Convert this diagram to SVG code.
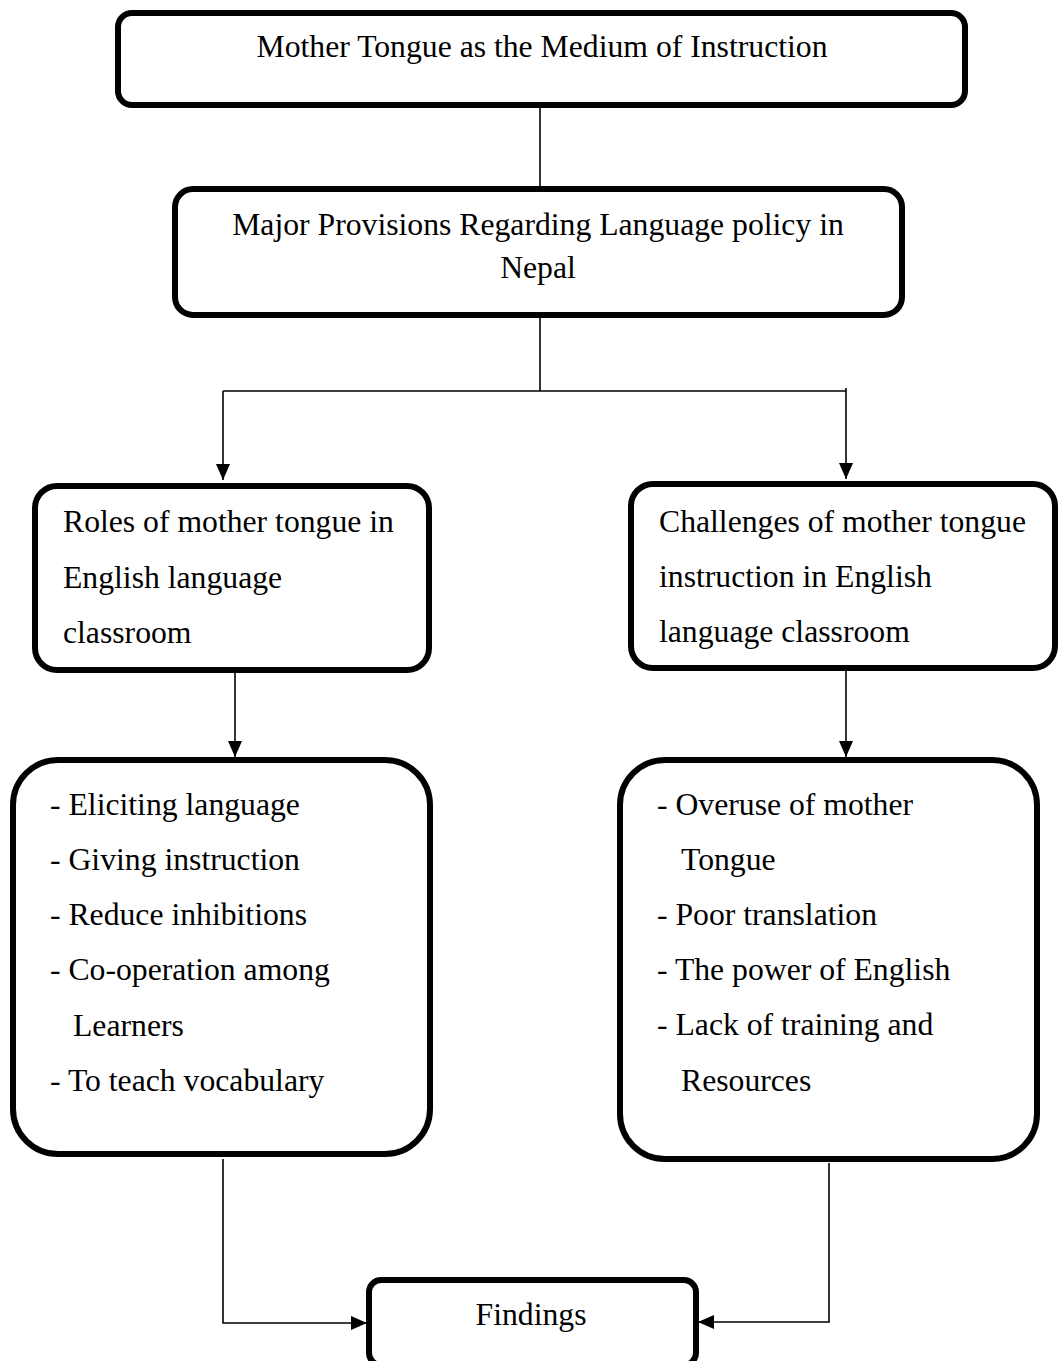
<svg xmlns="http://www.w3.org/2000/svg" width="1059" height="1361" viewBox="0 0 1059 1361">
<style>
.box{fill:#fff;stroke:#000;stroke-width:6}
.t{font-family:"Liberation Serif","Times New Roman",serif;font-size:31.7px;fill:#000}
.c{text-anchor:middle}
.ln{fill:none;stroke:#000;stroke-width:1.6}
</style>
<defs>
<marker id="ah" markerUnits="userSpaceOnUse" markerWidth="16" markerHeight="16" viewBox="0 0 16 16" refX="16" refY="8" orient="auto">
<path d="M0,1 L16,8 L0,15 Z" fill="#000"/>
</marker>
</defs>
<rect width="1059" height="1361" fill="#fff"/>
<g id="connectors">
<line class="ln" x1="540" y1="108" x2="540" y2="186"/>
<line class="ln" x1="540" y1="318" x2="540" y2="391"/>
<line class="ln" x1="223" y1="391" x2="846" y2="391"/>
<line class="ln" x1="223" y1="391" x2="223" y2="480" marker-end="url(#ah)"/>
<line class="ln" x1="846" y1="388" x2="846" y2="479" marker-end="url(#ah)"/>
<line class="ln" x1="235" y1="673" x2="235" y2="757" marker-end="url(#ah)"/>
<line class="ln" x1="846" y1="671" x2="846" y2="757" marker-end="url(#ah)"/>
<polyline class="ln" points="223,1159 223,1323 367,1323" marker-end="url(#ah)"/>
<polyline class="ln" points="829,1163 829,1322 698,1322" marker-end="url(#ah)"/>
</g>
<g id="n1">
<rect class="box" x="118" y="13" width="847" height="92" rx="14"/>
<text class="t c" x="542" y="57">Mother Tongue as the Medium of Instruction</text>
</g>
<g id="n2">
<rect class="box" x="175" y="189" width="727" height="126" rx="18"/>
<text class="t c" x="538" y="235">Major Provisions Regarding Language policy in</text>
<text class="t c" x="538" y="278">Nepal</text>
</g>
<g id="n3">
<rect class="box" x="35" y="486" width="394" height="184" rx="22"/>
<text class="t" x="63" y="532">Roles of mother tongue in</text>
<text class="t" x="63" y="588">English language</text>
<text class="t" x="63" y="643">classroom</text>
</g>
<g id="n4">
<rect class="box" x="631" y="484" width="424" height="184" rx="22"/>
<text class="t" x="659" y="532">Challenges of mother tongue</text>
<text class="t" x="659" y="587">instruction in English</text>
<text class="t" x="659" y="642">language classroom</text>
</g>
<g id="n5">
<rect class="box" x="13" y="760" width="417" height="394" rx="45"/>
<text class="t" x="50" y="815">- Eliciting language</text>
<text class="t" x="50" y="870">- Giving instruction</text>
<text class="t" x="50" y="925">- Reduce inhibitions</text>
<text class="t" x="50" y="980">- Co-operation among</text>
<text class="t" x="73" y="1036">Learners</text>
<text class="t" x="50" y="1091">- To teach vocabulary</text>
</g>
<g id="n6">
<rect class="box" x="620" y="760" width="417" height="399" rx="45"/>
<text class="t" x="657" y="815">- Overuse of mother</text>
<text class="t" x="681" y="870">Tongue</text>
<text class="t" x="657" y="925">- Poor translation</text>
<text class="t" x="657" y="980">- The power of English</text>
<text class="t" x="657" y="1035">- Lack of training and</text>
<text class="t" x="681" y="1091">Resources</text>
</g>
<g id="n7">
<rect class="box" x="369" y="1280" width="327" height="85" rx="12"/>
<text class="t c" x="531" y="1325">Findings</text>
</g>
</svg>
